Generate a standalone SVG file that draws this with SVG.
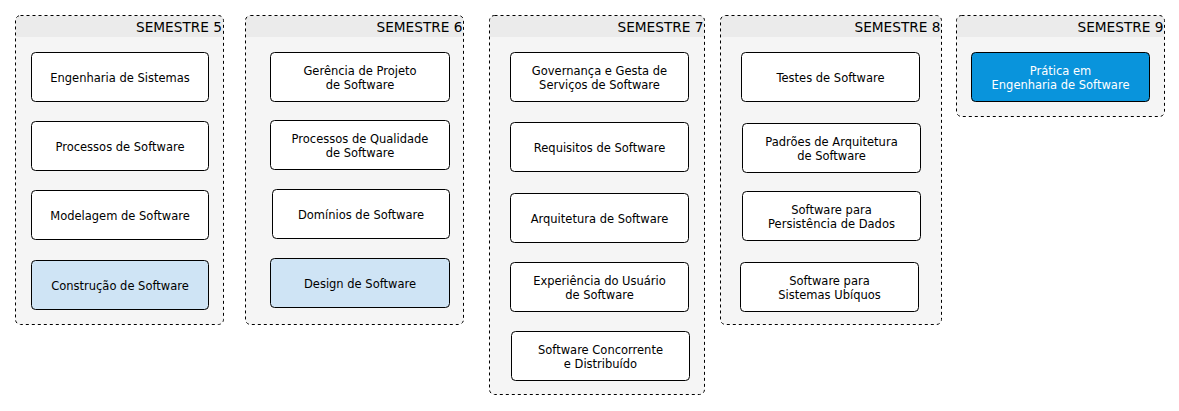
<svg xmlns="http://www.w3.org/2000/svg" width="1179" height="411" viewBox="0 0 1179 411">
<style>
.sem{fill:#f5f5f5;stroke:none}
.hdr{fill:#ebebeb;stroke:none}
.semb{fill:none;stroke:#000;stroke-width:1;stroke-dasharray:3 3}
.ht{font-family:"DejaVu Sans",sans-serif;font-size:13.7px;fill:#000;text-anchor:end}
.n{fill:#fff;stroke:#000;stroke-width:1}
.nb{fill:#cfe4f5;stroke:#000;stroke-width:1}
.nd{fill:#0994dc;stroke:#000;stroke-width:1}
.t{font-family:"DejaVu Sans",sans-serif;font-size:11.5px;fill:#000;text-anchor:middle}
.tw{font-family:"DejaVu Sans",sans-serif;font-size:11.5px;fill:#fff;text-anchor:middle}
</style>
<defs>
<clipPath id="c5"><rect x="15.5" y="15.5" width="208" height="309" rx="5"/></clipPath>
<clipPath id="c6"><rect x="245.5" y="15.5" width="218" height="309" rx="5"/></clipPath>
<clipPath id="c7"><rect x="489.5" y="15.5" width="215" height="379" rx="5"/></clipPath>
<clipPath id="c8"><rect x="720.5" y="15.5" width="221" height="309" rx="5"/></clipPath>
<clipPath id="c9"><rect x="956.5" y="15.5" width="208" height="101" rx="5"/></clipPath>
</defs>

<g id="semestre5">
<rect class="sem" x="15.5" y="15.5" width="208" height="309" rx="5"/>
<rect class="hdr" x="15.5" y="15.5" width="208" height="21.5" clip-path="url(#c5)"/>
<rect class="semb" x="15.5" y="15.5" width="208" height="309" rx="5"/>
<text class="ht" x="222" y="32">SEMESTRE 5</text>
</g>
<g id="semestre6">
<rect class="sem" x="245.5" y="15.5" width="218" height="309" rx="5"/>
<rect class="hdr" x="245.5" y="15.5" width="218" height="21.5" clip-path="url(#c6)"/>
<rect class="semb" x="245.5" y="15.5" width="218" height="309" rx="5"/>
<text class="ht" x="462.5" y="32">SEMESTRE 6</text>
</g>
<g id="semestre7">
<rect class="sem" x="489.5" y="15.5" width="215" height="379" rx="5"/>
<rect class="hdr" x="489.5" y="15.5" width="215" height="21.5" clip-path="url(#c7)"/>
<rect class="semb" x="489.5" y="15.5" width="215" height="379" rx="5"/>
<text class="ht" x="703.5" y="32">SEMESTRE 7</text>
</g>
<g id="semestre8">
<rect class="sem" x="720.5" y="15.5" width="221" height="309" rx="5"/>
<rect class="hdr" x="720.5" y="15.5" width="221" height="21.5" clip-path="url(#c8)"/>
<rect class="semb" x="720.5" y="15.5" width="221" height="309" rx="5"/>
<text class="ht" x="940.5" y="32">SEMESTRE 8</text>
</g>
<g id="semestre9">
<rect class="sem" x="956.5" y="15.5" width="208" height="101" rx="5"/>
<rect class="hdr" x="956.5" y="15.5" width="208" height="21.5" clip-path="url(#c9)"/>
<rect class="semb" x="956.5" y="15.5" width="208" height="101" rx="5"/>
<text class="ht" x="1163.5" y="32">SEMESTRE 9</text>
</g>

<g id="engenharia-sistemas"><rect class="n" x="31.5" y="52.5" width="177" height="49" rx="4"/><text class="t" x="120" y="81.5">Engenharia de Sistemas</text></g>
<g id="processos-software"><rect class="n" x="31.5" y="121.5" width="177" height="49" rx="4"/><text class="t" x="120" y="150.5">Processos de Software</text></g>
<g id="modelagem-software"><rect class="n" x="31.5" y="190.5" width="177" height="49" rx="4"/><text class="t" x="120" y="219.5">Modelagem de Software</text></g>
<g id="construcao-software"><rect class="nb" x="31.5" y="260.5" width="177" height="49" rx="4"/><text class="t" x="120" y="289.5">Construção de Software</text></g>

<g id="gerencia-projeto"><rect class="n" x="270.5" y="52.5" width="179" height="49" rx="4"/><text class="t" x="360" y="75">Gerência de Projeto</text><text class="t" x="360" y="89">de Software</text></g>
<g id="processos-qualidade"><rect class="n" x="270.5" y="120.5" width="179" height="49" rx="4"/><text class="t" x="360" y="143">Processos de Qualidade</text><text class="t" x="360" y="157">de Software</text></g>
<g id="dominios-software"><rect class="n" x="272.5" y="189.5" width="177" height="49" rx="4"/><text class="t" x="361" y="218.5">Domínios de Software</text></g>
<g id="design-software"><rect class="nb" x="270.5" y="258.5" width="179" height="49" rx="4"/><text class="t" x="360" y="287.5">Design de Software</text></g>

<g id="governanca"><rect class="n" x="510.5" y="52.5" width="178" height="49" rx="4"/><text class="t" x="599.5" y="75">Governança e Gesta de</text><text class="t" x="599.5" y="89">Serviços de Software</text></g>
<g id="requisitos-software"><rect class="n" x="510.5" y="122.5" width="178" height="49" rx="4"/><text class="t" x="599.5" y="151.5">Requisitos de Software</text></g>
<g id="arquitetura-software"><rect class="n" x="510.5" y="193.5" width="178" height="49" rx="4"/><text class="t" x="599.5" y="222.5">Arquitetura de Software</text></g>
<g id="experiencia-usuario"><rect class="n" x="510.5" y="262.5" width="178" height="49" rx="4"/><text class="t" x="599.5" y="285">Experiência do Usuário</text><text class="t" x="599.5" y="299">de Software</text></g>
<g id="software-concorrente"><rect class="n" x="511.5" y="331.5" width="178" height="49" rx="4"/><text class="t" x="600.5" y="354">Software Concorrente</text><text class="t" x="600.5" y="368">e Distribuído</text></g>

<g id="testes-software"><rect class="n" x="741.5" y="52.5" width="178" height="49" rx="4"/><text class="t" x="830.5" y="81.5">Testes de Software</text></g>
<g id="padroes-arquitetura"><rect class="n" x="742.5" y="123.5" width="178" height="49" rx="4"/><text class="t" x="831.5" y="146">Padrões de Arquitetura</text><text class="t" x="831.5" y="160">de Software</text></g>
<g id="persistencia-dados"><rect class="n" x="742.5" y="191.5" width="178" height="49" rx="4"/><text class="t" x="831.5" y="214">Software para</text><text class="t" x="831.5" y="228">Persistência de Dados</text></g>
<g id="sistemas-ubiquos"><rect class="n" x="740.5" y="262.5" width="178" height="49" rx="4"/><text class="t" x="829.5" y="285">Software para</text><text class="t" x="829.5" y="299">Sistemas Ubíquos</text></g>

<g id="pratica-engenharia"><rect class="nd" x="971.5" y="52.5" width="178" height="49" rx="4"/><text class="tw" x="1060.5" y="75">Prática em</text><text class="tw" x="1060.5" y="89">Engenharia de Software</text></g>

<g id="connectors"></g>
</svg>
